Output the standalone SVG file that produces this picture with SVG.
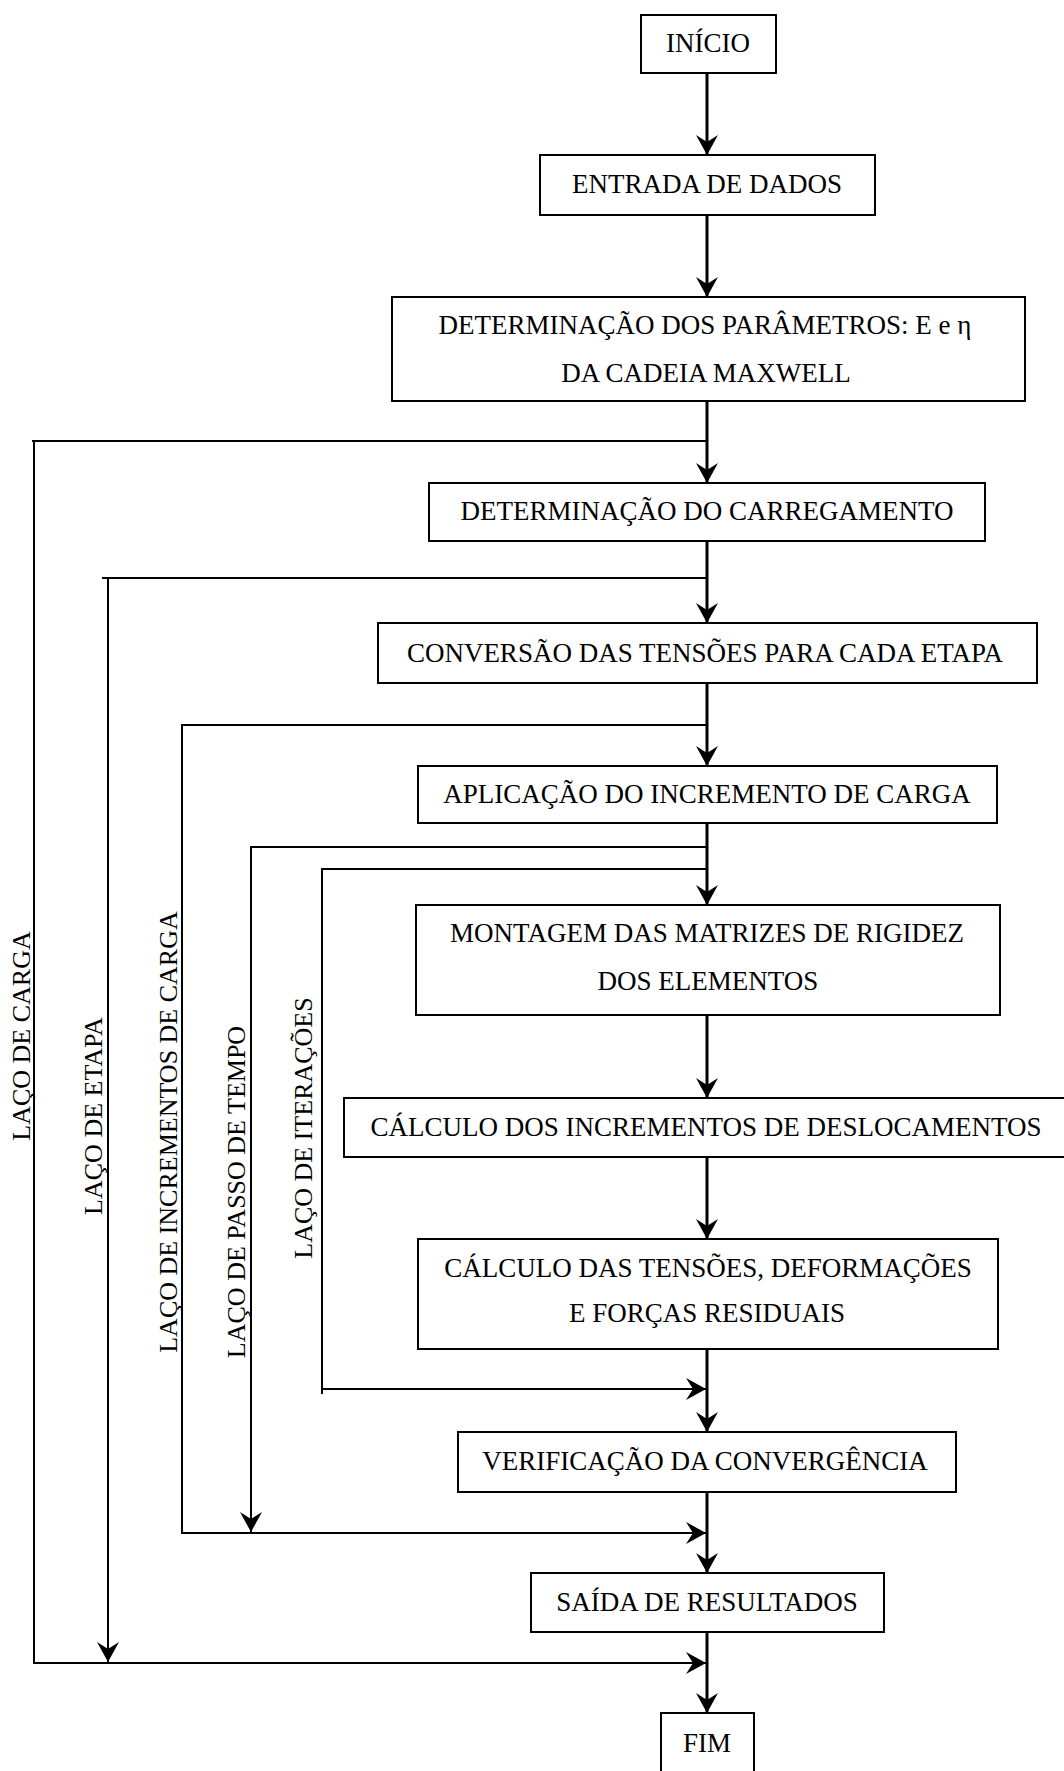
<svg xmlns="http://www.w3.org/2000/svg" width="1064" height="1771" viewBox="0 0 1064 1771">
<style>
.box{fill:#fff;stroke:#000;stroke-width:2}
.t{font-family:"Liberation Serif","Times New Roman",serif;font-size:27px;fill:#000;text-anchor:middle}
.v{font-family:"Liberation Serif","Times New Roman",serif;font-size:26px;fill:#000;text-anchor:middle}
.main{stroke:#000;stroke-width:3;fill:none}
.loop{stroke:#000;stroke-width:2;fill:none}
</style>
<defs>
<marker id="ah" markerUnits="userSpaceOnUse" markerWidth="24" markerHeight="24" viewBox="-21 -12 22 24" refX="0" refY="0" orient="auto">
<path d="M0,0 L-20,-11 L-13,0 L-20,11 Z" fill="#000"/>
</marker>
</defs>
<rect width="1064" height="1771" fill="#fff"/>
<g id="connectors">
<line class="main" x1="707" y1="73" x2="707" y2="155" marker-end="url(#ah)"/>
<line class="main" x1="707" y1="215" x2="707" y2="297" marker-end="url(#ah)"/>
<line class="main" x1="707" y1="401" x2="707" y2="483" marker-end="url(#ah)"/>
<line class="main" x1="707" y1="541" x2="707" y2="623" marker-end="url(#ah)"/>
<line class="main" x1="707" y1="683" x2="707" y2="766" marker-end="url(#ah)"/>
<line class="main" x1="707" y1="823" x2="707" y2="905" marker-end="url(#ah)"/>
<line class="main" x1="707" y1="1015" x2="707" y2="1098" marker-end="url(#ah)"/>
<line class="main" x1="707" y1="1157" x2="707" y2="1239" marker-end="url(#ah)"/>
<line class="main" x1="707" y1="1349" x2="707" y2="1432" marker-end="url(#ah)"/>
<line class="main" x1="707" y1="1492" x2="707" y2="1573" marker-end="url(#ah)"/>
<line class="main" x1="707" y1="1632" x2="707" y2="1713" marker-end="url(#ah)"/>
<!-- LAÇO DE CARGA -->
<polyline class="loop" points="707,441 32,441"/>
<polyline class="loop" points="34,441 34,1663 706,1663" marker-end="url(#ah)"/>
<!-- LAÇO DE ETAPA -->
<polyline class="loop" points="707,578 102,578"/>
<polyline class="loop" points="108,578 108,1662" marker-end="url(#ah)"/>
<!-- LAÇO DE INCREMENTOS DE CARGA -->
<polyline class="loop" points="707,725 182,725 182,1533 706,1533" marker-end="url(#ah)"/>
<!-- LAÇO DE PASSO DE TEMPO -->
<polyline class="loop" points="707,847 251,847 251,1532" marker-end="url(#ah)"/>
<!-- LAÇO DE ITERAÇÕES -->
<polyline class="loop" points="707,869 322,869 322,1394"/>
<line class="loop" x1="322" y1="1389" x2="706" y2="1389" marker-end="url(#ah)"/>
</g>
<g id="loop-labels">
<text class="v" transform="translate(30,1036) rotate(-90)">LAÇO DE CARGA</text>
<text class="v" transform="translate(102,1116) rotate(-90)">LAÇO DE ETAPA</text>
<text class="v" transform="translate(177,1132) rotate(-90)">LAÇO DE INCREMENTOS DE CARGA</text>
<text class="v" transform="translate(245,1192) rotate(-90)">LAÇO DE PASSO DE TEMPO</text>
<text class="v" transform="translate(312,1128) rotate(-90)">LAÇO DE ITERAÇÕES</text>
</g>
<g id="inicio"><rect class="box" x="641" y="15" width="135" height="58"/><text class="t" x="708" y="52">INÍCIO</text></g>
<g id="entrada"><rect class="box" x="540" y="155" width="335" height="60"/><text class="t" x="707" y="193">ENTRADA DE DADOS</text></g>
<g id="parametros"><rect class="box" x="392" y="297" width="633" height="104"/><text class="t" x="705" y="334">DETERMINAÇÃO DOS PARÂMETROS: E e η</text><text class="t" x="706" y="382">DA CADEIA MAXWELL</text></g>
<g id="carregamento"><rect class="box" x="429" y="483" width="556" height="58"/><text class="t" x="707" y="520">DETERMINAÇÃO DO CARREGAMENTO</text></g>
<g id="conversao"><rect class="box" x="378" y="623" width="659" height="60"/><text class="t" x="705" y="662">CONVERSÃO DAS TENSÕES PARA CADA ETAPA</text></g>
<g id="aplicacao"><rect class="box" x="418" y="766" width="579" height="57"/><text class="t" x="707" y="803">APLICAÇÃO DO INCREMENTO DE CARGA</text></g>
<g id="montagem"><rect class="box" x="416" y="905" width="584" height="110"/><text class="t" x="707" y="942">MONTAGEM DAS MATRIZES DE RIGIDEZ</text><text class="t" x="708" y="990">DOS ELEMENTOS</text></g>
<g id="calculo-desl"><rect class="box" x="344" y="1098" width="730" height="59"/><text class="t" x="706" y="1136">CÁLCULO DOS INCREMENTOS DE DESLOCAMENTOS</text></g>
<g id="calculo-tensoes"><rect class="box" x="418" y="1239" width="580" height="110"/><text class="t" x="708" y="1277">CÁLCULO DAS TENSÕES, DEFORMAÇÕES</text><text class="t" x="707" y="1322">E FORÇAS RESIDUAIS</text></g>
<g id="verificacao"><rect class="box" x="458" y="1432" width="498" height="60"/><text class="t" x="705" y="1470">VERIFICAÇÃO DA CONVERGÊNCIA</text></g>
<g id="saida"><rect class="box" x="531" y="1573" width="353" height="59"/><text class="t" x="707" y="1611">SAÍDA DE RESULTADOS</text></g>
<g id="fim"><rect class="box" x="661" y="1713" width="93" height="70"/><text class="t" x="707" y="1752">FIM</text></g>
</svg>
